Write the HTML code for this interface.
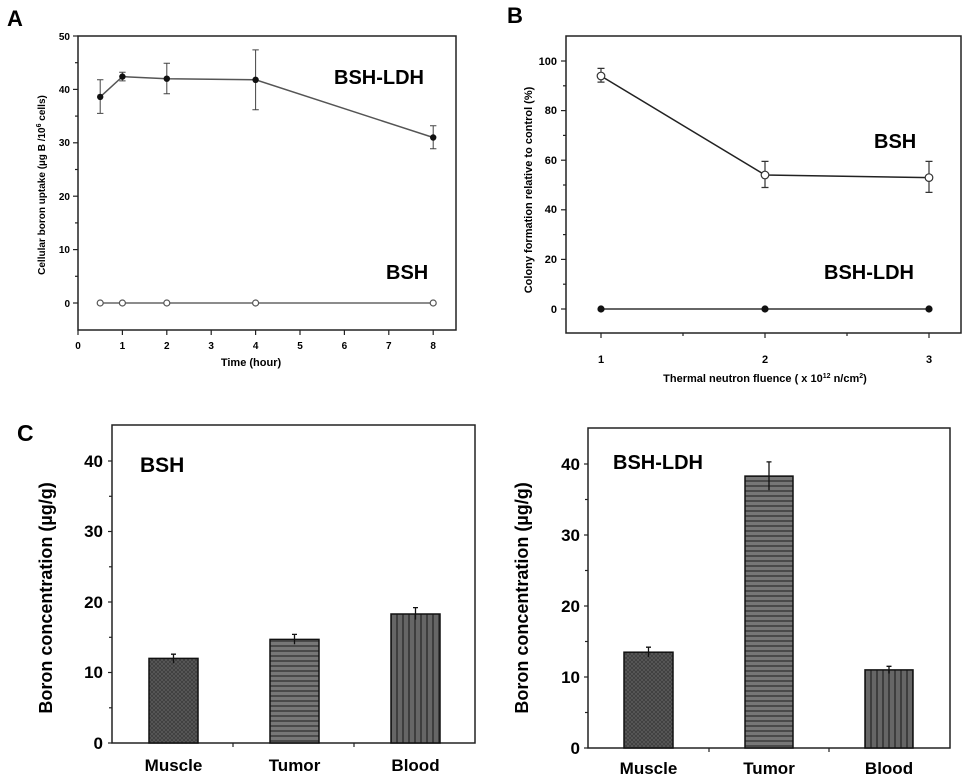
<!DOCTYPE html>
<html><head><meta charset="utf-8"><style>
html,body{margin:0;padding:0;background:#fff}
svg{display:block;font-family:"Liberation Sans",Arial,sans-serif;font-weight:bold}
</style></head><body>
<svg width="972" height="778" viewBox="0 0 972 778" xmlns="http://www.w3.org/2000/svg">
<defs>
<pattern id="pm" width="4" height="4" patternUnits="userSpaceOnUse">
<rect width="4" height="4" fill="#5a5a5a"/><path d="M0 4L4 0M0 0L4 4" stroke="#3c3c3c" stroke-width="0.8"/>
</pattern>
<pattern id="pt" width="6" height="5" patternUnits="userSpaceOnUse">
<rect width="6" height="5" fill="#777"/><rect y="0" width="6" height="2" fill="#4a4a4a"/>
</pattern>
<pattern id="pb" width="6" height="6" patternUnits="userSpaceOnUse">
<rect width="6" height="6" fill="#666"/><rect x="0" width="2" height="6" fill="#3e3e3e"/>
</pattern>
</defs>

<!-- Panel A -->
<text x="7" y="26" font-size="22">A</text>
<rect x="78" y="36" width="378" height="294" fill="none" stroke="#222" stroke-width="1.5"/>
<g stroke="#222" stroke-width="1.2">
<line x1="73" y1="36" x2="78" y2="36"/><line x1="73" y1="89.4" x2="78" y2="89.4"/><line x1="73" y1="142.8" x2="78" y2="142.8"/><line x1="73" y1="196.2" x2="78" y2="196.2"/><line x1="73" y1="249.6" x2="78" y2="249.6"/><line x1="73" y1="303" x2="78" y2="303"/>
<line x1="75" y1="62.7" x2="78" y2="62.7"/><line x1="75" y1="116.1" x2="78" y2="116.1"/><line x1="75" y1="169.5" x2="78" y2="169.5"/><line x1="75" y1="222.9" x2="78" y2="222.9"/><line x1="75" y1="276.3" x2="78" y2="276.3"/>
<line x1="78" y1="330" x2="78" y2="335"/><line x1="122.4" y1="330" x2="122.4" y2="335"/><line x1="166.8" y1="330" x2="166.8" y2="335"/><line x1="211.2" y1="330" x2="211.2" y2="335"/><line x1="255.6" y1="330" x2="255.6" y2="335"/><line x1="300" y1="330" x2="300" y2="335"/><line x1="344.4" y1="330" x2="344.4" y2="335"/><line x1="388.8" y1="330" x2="388.8" y2="335"/><line x1="433.2" y1="330" x2="433.2" y2="335"/>
</g>
<g font-size="10" text-anchor="end">
<text x="70" y="40">50</text><text x="70" y="93">40</text><text x="70" y="146">30</text><text x="70" y="200">20</text><text x="70" y="253">10</text><text x="70" y="307">0</text>
</g>
<g font-size="10" text-anchor="middle">
<text x="78" y="349">0</text><text x="122.4" y="349">1</text><text x="166.8" y="349">2</text><text x="211.2" y="349">3</text><text x="255.6" y="349">4</text><text x="300" y="349">5</text><text x="344.4" y="349">6</text><text x="388.8" y="349">7</text><text x="433.2" y="349">8</text>
<text x="251" y="366" font-size="11">Time (hour)</text>
</g>
<text transform="translate(45,185) rotate(-90)" font-size="10" text-anchor="middle">Cellular boron uptake (µg B /10<tspan font-size="7" dy="-4">6</tspan><tspan dy="4"> cells)</tspan></text>
<polyline points="100.2,96.9 122.4,76.6 166.8,78.7 255.6,79.8 433.2,137.5" fill="none" stroke="#555" stroke-width="1.5"/>
<g stroke="#444" stroke-width="1">
<path d="M100.2 113.4V79.8M97 113.4h6.4M97 79.8h6.4"/>
<path d="M122.4 80.9V72.3M119.2 80.9h6.4M119.2 72.3h6.4"/>
<path d="M166.8 93.7V63.2M163.6 93.7h6.4M163.6 63.2h6.4"/>
<path d="M255.6 109.7V49.9M252.4 109.7h6.4M252.4 49.9h6.4"/>
<path d="M433.2 148.7V125.7M430 148.7h6.4M430 125.7h6.4"/>
</g>
<g fill="#111"><circle cx="100.2" cy="96.9" r="3.2"/><circle cx="122.4" cy="76.6" r="3.2"/><circle cx="166.8" cy="78.7" r="3.2"/><circle cx="255.6" cy="79.8" r="3.2"/><circle cx="433.2" cy="137.5" r="3.2"/></g>
<line x1="100.2" y1="303" x2="433.2" y2="303" stroke="#666" stroke-width="1.5"/>
<g fill="#fff" stroke="#555" stroke-width="1.2"><circle cx="100.2" cy="303" r="3"/><circle cx="122.4" cy="303" r="3"/><circle cx="166.8" cy="303" r="3"/><circle cx="255.6" cy="303" r="3"/><circle cx="433.2" cy="303" r="3"/></g>
<text x="334" y="84" font-size="20">BSH-LDH</text>
<text x="386" y="279" font-size="20">BSH</text>

<!-- Panel B -->
<text x="507" y="23" font-size="22">B</text>
<rect x="566" y="36" width="395" height="297" fill="none" stroke="#222" stroke-width="1.5"/>
<g stroke="#222" stroke-width="1.2">
<line x1="561" y1="61" x2="566" y2="61"/><line x1="561" y1="110.6" x2="566" y2="110.6"/><line x1="561" y1="160.2" x2="566" y2="160.2"/><line x1="561" y1="209.8" x2="566" y2="209.8"/><line x1="561" y1="259.4" x2="566" y2="259.4"/><line x1="561" y1="309" x2="566" y2="309"/>
<line x1="563" y1="85.8" x2="566" y2="85.8"/><line x1="563" y1="135.4" x2="566" y2="135.4"/><line x1="563" y1="185" x2="566" y2="185"/><line x1="563" y1="234.6" x2="566" y2="234.6"/><line x1="563" y1="284.2" x2="566" y2="284.2"/>
<line x1="601" y1="333" x2="601" y2="338"/><line x1="683" y1="333" x2="683" y2="336"/><line x1="765" y1="333" x2="765" y2="338"/><line x1="847" y1="333" x2="847" y2="336"/><line x1="929" y1="333" x2="929" y2="338"/>
</g>
<g font-size="11" text-anchor="end">
<text x="557" y="65">100</text><text x="557" y="114">80</text><text x="557" y="164">60</text><text x="557" y="213">40</text><text x="557" y="263">20</text><text x="557" y="313">0</text>
</g>
<g font-size="11" text-anchor="middle">
<text x="601" y="363">1</text><text x="765" y="363">2</text><text x="929" y="363">3</text>
<text x="765" y="382" font-size="11">Thermal neutron fluence ( x 10<tspan font-size="7" dy="-4">12</tspan><tspan dy="4"> n/cm</tspan><tspan font-size="7" dy="-4">2</tspan><tspan dy="4">)</tspan></text>
</g>
<text transform="translate(532,190) rotate(-90)" font-size="11" text-anchor="middle">Colony formation relative to control (%)</text>
<polyline points="601,76 765,175 929,177.6" fill="none" stroke="#222" stroke-width="1.5"/>
<g stroke="#333" stroke-width="1.2">
<path d="M601 82.1V68.4M597.5 82.1h7M597.5 68.4h7"/>
<path d="M765 187.5V161.4M761.5 187.5h7M761.5 161.4h7"/>
<path d="M929 192.4V161.4M925.5 192.4h7M925.5 161.4h7"/>
</g>
<g fill="#fff" stroke="#333" stroke-width="1.2"><circle cx="601" cy="76" r="3.8"/><circle cx="765" cy="175" r="3.8"/><circle cx="929" cy="177.6" r="3.8"/></g>
<line x1="601" y1="309" x2="929" y2="309" stroke="#333" stroke-width="1.5"/>
<g fill="#111"><circle cx="601" cy="309" r="3.6"/><circle cx="765" cy="309" r="3.6"/><circle cx="929" cy="309" r="3.6"/></g>
<text x="874" y="148" font-size="20">BSH</text>
<text x="824" y="279" font-size="20">BSH-LDH</text>

<!-- Panel C left -->
<text x="17" y="441" font-size="23">C</text>
<rect x="112" y="425" width="363" height="318" fill="none" stroke="#222" stroke-width="1.5"/>
<g stroke="#222" stroke-width="1.2">
<line x1="108" y1="461" x2="112" y2="461"/><line x1="108" y1="531.5" x2="112" y2="531.5"/><line x1="108" y1="602" x2="112" y2="602"/><line x1="108" y1="672.5" x2="112" y2="672.5"/><line x1="108" y1="743" x2="112" y2="743"/>
<line x1="109" y1="496.3" x2="112" y2="496.3"/><line x1="109" y1="566.8" x2="112" y2="566.8"/><line x1="109" y1="637.3" x2="112" y2="637.3"/><line x1="109" y1="707.8" x2="112" y2="707.8"/>
<line x1="233" y1="743" x2="233" y2="747"/><line x1="354" y1="743" x2="354" y2="747"/>
</g>
<g font-size="17" text-anchor="end">
<text x="103" y="467">40</text><text x="103" y="537">30</text><text x="103" y="608">20</text><text x="103" y="678">10</text><text x="103" y="749">0</text>
</g>
<text transform="translate(52,598) rotate(-90)" font-size="18" text-anchor="middle">Boron concentration (µg/g)</text>
<rect x="149" y="658.4" width="49" height="84.6" fill="url(#pm)" stroke="#111" stroke-width="1.5"/>
<rect x="270" y="639.4" width="49" height="103.6" fill="url(#pt)" stroke="#111" stroke-width="1.5"/>
<rect x="391" y="614" width="49" height="129" fill="url(#pb)" stroke="#111" stroke-width="1.5"/>
<g stroke="#111" stroke-width="1.3">
<path d="M173.5 663.3V654.2M171 654.2h5"/>
<path d="M294.5 644.3V634.4M292 634.4h5"/>
<path d="M415.5 619.6V607.6M413 607.6h5"/>
</g>
<g font-size="17" text-anchor="middle">
<text x="173.5" y="771">Muscle</text><text x="294.5" y="771">Tumor</text><text x="415.5" y="771">Blood</text>
</g>
<text x="140" y="472" font-size="21">BSH</text>

<!-- Panel C right -->
<rect x="588" y="428" width="362" height="320" fill="none" stroke="#222" stroke-width="1.5"/>
<g stroke="#222" stroke-width="1.2">
<line x1="584" y1="464" x2="588" y2="464"/><line x1="584" y1="535" x2="588" y2="535"/><line x1="584" y1="606" x2="588" y2="606"/><line x1="584" y1="677" x2="588" y2="677"/><line x1="584" y1="748" x2="588" y2="748"/>
<line x1="585" y1="499.5" x2="588" y2="499.5"/><line x1="585" y1="570.5" x2="588" y2="570.5"/><line x1="585" y1="641.5" x2="588" y2="641.5"/><line x1="585" y1="712.5" x2="588" y2="712.5"/>
<line x1="709" y1="748" x2="709" y2="752"/><line x1="829" y1="748" x2="829" y2="752"/>
</g>
<g font-size="17" text-anchor="end">
<text x="580" y="470">40</text><text x="580" y="541">30</text><text x="580" y="612">20</text><text x="580" y="683">10</text><text x="580" y="754">0</text>
</g>
<text transform="translate(528,598) rotate(-90)" font-size="18" text-anchor="middle">Boron concentration (µg/g)</text>
<rect x="624" y="652.2" width="49" height="95.8" fill="url(#pm)" stroke="#111" stroke-width="1.5"/>
<rect x="745" y="476.1" width="48" height="271.9" fill="url(#pt)" stroke="#111" stroke-width="1.5"/>
<rect x="865" y="669.9" width="48" height="78.1" fill="url(#pb)" stroke="#111" stroke-width="1.5"/>
<g stroke="#111" stroke-width="1.3">
<path d="M648.5 657.1V647.2M646 647.2h5"/>
<path d="M769 490.3V461.9M766.5 461.9h5"/>
<path d="M889 673.5V666.3M886.5 666.3h5"/>
</g>
<g font-size="17" text-anchor="middle">
<text x="648.5" y="774">Muscle</text><text x="769" y="774">Tumor</text><text x="889" y="774">Blood</text>
</g>
<text x="613" y="469" font-size="20">BSH-LDH</text>
</svg>
</body></html>
